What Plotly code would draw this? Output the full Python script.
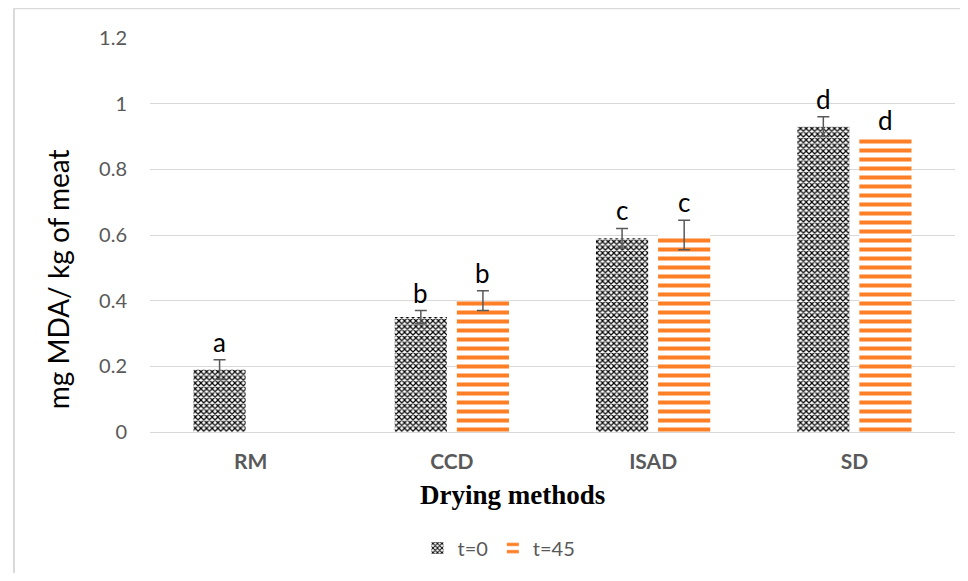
import plotly.graph_objects as go

categories = ["RM", "CCD", "ISAD", "SD"]
t0_values = [0.19, 0.35, 0.59, 0.93]
t0_errors = [0.03, 0.02, 0.03, 0.03]
t0_letters = ["a", "b", "c", "d"]
t45_categories = ["CCD", "ISAD", "SD"]
t45_values = [0.40, 0.60, 0.895]
t45_letters = ["b", "c", "d"]
t45_err_categories = ["CCD", "ISAD"]
t45_err_values = [0.40, 0.60]
t45_errors = [0.03, 0.045]
y_ticks = [0, 0.2, 0.4, 0.6, 0.8, 1.0, 1.2]
y_tick_labels = ["0", "0.2", "0.4", "0.6", "0.8", "1", "1.2"]

ORANGE = "#FF7F27"
GRAY = "#595959"
FONT = "Lato"

fig = go.Figure()
fig.add_trace(go.Bar(
    name="t=0", x=categories, y=t0_values, offsetgroup="t0",
    marker=dict(color="white", line=dict(width=0),
                pattern=dict(shape="x", fgcolor="black", bgcolor="white", size=4,
                             solidity=0.5, fgopacity=1)),
    error_y=dict(type="data", array=t0_errors, color=GRAY, thickness=1.5, width=6),
))
fig.add_trace(go.Bar(
    name="t=45", x=t45_categories, y=t45_values, offsetgroup="t45",
    marker=dict(color="white", line=dict(width=0),
                pattern=dict(shape="-", fgcolor=ORANGE, bgcolor="white", size=9,
                             solidity=0.45, fgopacity=1)),
))
fig.add_trace(go.Bar(
    name="t=45 error", x=t45_err_categories, y=t45_err_values, offsetgroup="t45",
    showlegend=False, marker=dict(color="rgba(0,0,0,0)", line=dict(width=0)),
    error_y=dict(type="data", array=t45_errors, color=GRAY, thickness=1.5, width=6),
))

annotations = []
for c, v, e, t in zip(categories, t0_values, t0_errors, t0_letters):
    annotations.append(dict(x=c, y=v + e, text=t, showarrow=False, xshift=-31, yshift=0,
                            yanchor="bottom", font=dict(family=FONT, size=26, color="black")))
t45_err_map = dict(zip(t45_err_categories, t45_errors))
for c, v, t in zip(t45_categories, t45_values, t45_letters):
    annotations.append(dict(x=c, y=v + t45_err_map.get(c, 0), text=t, showarrow=False,
                            xshift=31, yshift=0, yanchor="bottom",
                            font=dict(family=FONT, size=26, color="black")))
annotations.append(dict(text="mg MDA/ kg of meat", xref="paper", yref="paper",
                        x=-0.114, y=0.388, textangle=-90, showarrow=False,
                        xanchor="center", yanchor="middle",
                        font=dict(family=FONT, size=28, color="black")))
annotations.append(dict(text="<b>Drying methods</b>", xref="paper", yref="paper",
                        x=0.450, y=-0.161, showarrow=False,
                        xanchor="center", yanchor="middle",
                        font=dict(family="Liberation Serif", size=27, color="black")))

fig.update_layout(
    width=952, height=565,
    margin=dict(l=142, r=5, t=30, b=137),
    paper_bgcolor="white", plot_bgcolor="white",
    barmode="group", bargap=0.383, bargroupgap=0.16,
    font=dict(family=FONT, color=GRAY, size=18),
    annotations=annotations,
    xaxis=dict(
        categoryorder="array", categoryarray=categories,
        showline=True, linecolor="#d9d9d9", linewidth=1,
        ticks="", ticklabelstandoff=11,
        tickfont=dict(family=FONT, size=21, color=GRAY, weight="bold"),
    ),
    yaxis=dict(
        range=[0, 1.2], tickvals=y_ticks, ticktext=y_tick_labels,
        showgrid=True, gridcolor="#d9d9d9", gridwidth=1, zeroline=False,
        showline=False, ticks="", ticklabelstandoff=22,
        tickfont=dict(family=FONT, size=20, color=GRAY),
    ),
    legend=dict(orientation="h", x=0.4335, xanchor="center", y=-0.245, yanchor="top",
                font=dict(family=FONT, size=20, color=GRAY), itemwidth=30),
    shapes=[
        dict(type="line", xref="paper", yref="paper", x0=-0.169, x1=1.03, y0=1.0754, y1=1.0754,
             line=dict(color="#d9d9d9", width=2)),
        dict(type="line", xref="paper", yref="paper", x0=-0.169, x1=-0.169, y0=1.0754, y1=-0.37,
             line=dict(color="#d9d9d9", width=2)),
    ],
)

fig.write_html("out.html")
